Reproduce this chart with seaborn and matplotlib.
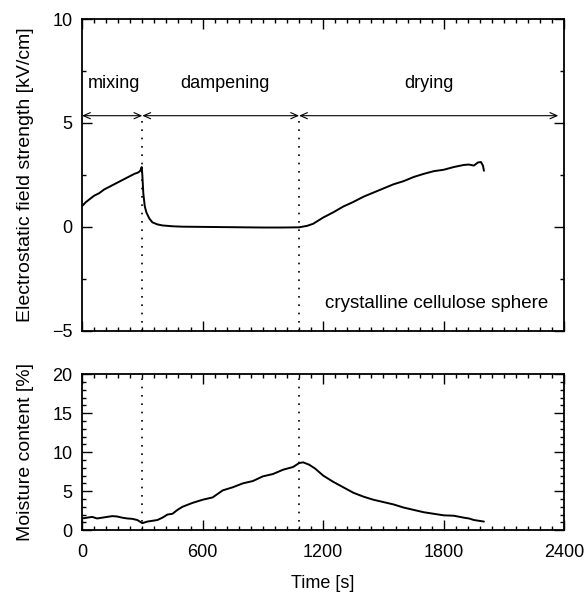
import matplotlib
matplotlib.use("Agg")
import matplotlib.pyplot as plt
from matplotlib.ticker import MultipleLocator
import pandas as pd
import seaborn as sns

# electrostatic field strength [kV/cm] vs time [s]
field_time = [0, 20, 40, 60, 85, 110, 140, 170, 200, 230, 260, 280, 290, 297, 300,
              305, 312, 320, 335, 350, 375, 400, 450, 500, 600, 700, 800, 900, 1000,
              1080, 1120, 1150, 1200, 1250, 1300, 1350, 1400, 1450, 1500, 1550, 1600,
              1650, 1700, 1750, 1800, 1850, 1900, 1925, 1950, 1970, 1985, 1995, 2000]
field_value = [1.0, 1.2, 1.35, 1.5, 1.62, 1.8, 1.95, 2.1, 2.25, 2.4, 2.55, 2.62, 2.7, 2.88, 2.5,
               1.6, 1.0, 0.7, 0.4, 0.22, 0.12, 0.07, 0.03, 0.01, 0.0, -0.01, -0.02, -0.03, -0.03,
               -0.02, 0.05, 0.15, 0.45, 0.7, 0.98, 1.2, 1.45, 1.65, 1.85, 2.05, 2.2,
               2.4, 2.55, 2.68, 2.75, 2.88, 2.98, 3.0, 2.95, 3.1, 3.12, 2.95, 2.7]

# moisture content [%] vs time [s]
moist_time = [0, 25, 50, 75, 100, 125, 150, 175, 200, 225, 250, 275, 300, 325, 350, 375,
              400, 425, 450, 475, 500, 550, 600, 650, 700, 750, 800, 850, 900, 950, 1000,
              1050, 1080, 1100, 1130, 1160, 1200, 1250, 1300, 1350, 1400, 1450, 1500, 1550,
              1600, 1650, 1700, 1750, 1800, 1850, 1900, 1925, 1950, 1975, 2000]
moist_value = [1.5, 1.6, 1.7, 1.5, 1.6, 1.7, 1.8, 1.75, 1.6, 1.5, 1.45, 1.3, 0.9, 1.1, 1.2, 1.3,
               1.6, 2.0, 2.1, 2.6, 3.0, 3.5, 3.9, 4.2, 5.1, 5.5, 6.0, 6.3, 6.9, 7.2, 7.75,
               8.1, 8.6, 8.7, 8.4, 7.9, 7.0, 6.2, 5.5, 4.8, 4.3, 3.9, 3.6, 3.3,
               2.9, 2.6, 2.3, 2.1, 1.9, 1.85, 1.6, 1.5, 1.3, 1.2, 1.1]

# process phases
phase_names = ["mixing", "dampening", "drying"]
phase_start = [0, 300, 1080]
phase_end = [300, 1080, 2370]
phase_label_x = [160, 710, 1725]

sns.set_style("ticks")
plt.rcParams["font.family"] = ["Liberation Sans", "DejaVu Sans"]
for key in ["text.color", "axes.labelcolor", "xtick.color", "ytick.color", "axes.edgecolor"]:
    plt.rcParams[key] = "black"

fig = plt.figure(figsize=(5.86, 5.95), dpi=100)
ax1 = fig.add_axes([0.140, 0.444, 0.823, 0.524])
ax2 = fig.add_axes([0.140, 0.109, 0.823, 0.262])

field = pd.DataFrame({"time": field_time, "field": field_value})
moist = pd.DataFrame({"time": moist_time, "moisture": moist_value})

sns.lineplot(data=field, x="time", y="field", ax=ax1, color="black", lw=1.4)
sns.lineplot(data=moist, x="time", y="moisture", ax=ax2, color="black", lw=1.4)

arrow_y = 5.35
for name, x0, x1, xl in zip(phase_names, phase_start, phase_end, phase_label_x):
    ax1.annotate("", xy=(x1, arrow_y), xytext=(x0, arrow_y),
                 arrowprops=dict(arrowstyle="<->,head_length=0.5,head_width=0.22",
                                 color="black", lw=0.8, shrinkA=0, shrinkB=0))
    ax1.text(xl, 6.9, name, ha="center", va="center", fontsize=13)

for xv in phase_start[1:]:
    ax1.plot([xv, xv], [-5, arrow_y], color="black", lw=1.2, ls=(0, (1, 4)))
    ax2.axvline(xv, color="black", lw=1.2, ls=(0, (1, 4)))

ax1.text(2320, -3.7, "crystalline cellulose sphere", ha="right", va="center", fontsize=13.5)

ax1.set_xlim(0, 2400)
ax1.set_ylim(-5, 10)
ax1.yaxis.set_major_locator(MultipleLocator(5))
ax1.yaxis.set_minor_locator(MultipleLocator(2.5))
ax1.set_ylabel("Electrostatic field strength [kV/cm]", fontsize=14)
ax1.set_xlabel("")
ax1.tick_params(labelbottom=False)

ax2.set_xlim(0, 2400)
ax2.set_ylim(0, 20)
ax2.yaxis.set_major_locator(MultipleLocator(5))
ax2.yaxis.set_minor_locator(MultipleLocator(1))
ax2.set_ylabel("Moisture content [%]", fontsize=14)
ax2.set_xlabel("Time [s]", fontsize=13, labelpad=10)

for ax in (ax1, ax2):
    ax.xaxis.set_major_locator(MultipleLocator(600))
    ax.xaxis.set_minor_locator(MultipleLocator(60))
    ax.tick_params(which="both", direction="in", top=True, right=True, width=1.0)
    ax.tick_params(which="major", length=7)
    ax.tick_params(which="minor", length=3)
    ax.tick_params(axis="x", pad=10, labelsize=13)
    ax.tick_params(axis="y", pad=7, labelsize=13)
    ax.yaxis.set_label_coords(-0.1, 0.5)
    for spine in ax.spines.values():
        spine.set_visible(True)
        spine.set_linewidth(1.3)
        spine.set_color("black")

fig.savefig("out.png", dpi=100)
